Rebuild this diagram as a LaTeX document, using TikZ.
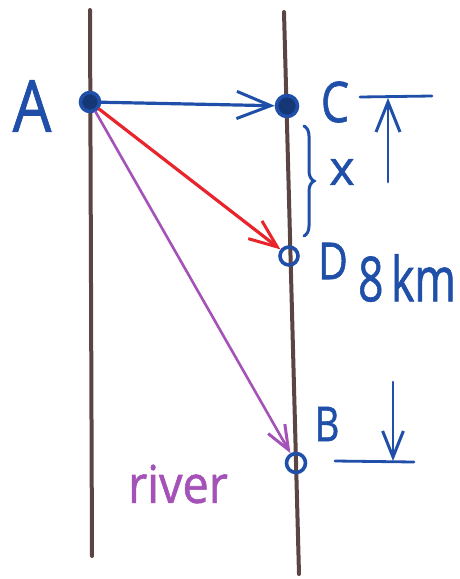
\documentclass[tikz,border=0pt]{standalone}
\usepackage{fontspec}
\setmainfont{Open Sans}[FakeBold=1.2]
\usetikzlibrary{arrows.meta,decorations.pathreplacing}
\definecolor{penblue}{HTML}{1F4FA8}
\definecolor{penred}{HTML}{E8242C}
\definecolor{penpurple}{HTML}{A452B8}
\definecolor{penbrown}{HTML}{5A4444}
\tikzset{
  bank/.style={draw=penbrown,line width=4pt,line cap=round},
  dot/.style={circle,draw=penblue,line width=3.6pt,inner sep=0pt,minimum size=#1},
  lab/.style={text=penblue,inner sep=0pt,anchor=center},
  pen/.style={line width=3.2pt,line cap=round},
  tip/.style={-{Straight Barb[length=#1,width=0.8*#1,line width=3pt]}},
  tip/.default=24pt
}
\begin{document}
\begin{tikzpicture}[x=1pt,y=-1pt]
\useasboundingbox (0,0) rectangle (459,579);
% river banks
\coordinate (LT) at (90,10);
\coordinate (LB) at (92,556);
\coordinate (RT) at (284,12);
\coordinate (RB) at (299,574);
\draw[bank] (LT) -- (LB);
\draw[bank] (RT) -- (RB);
% points
\node[dot=19pt,fill=penblue!70!black] (A) at (90,102) {};
\node[dot=21pt,fill=penblue!70!black] (C) at (287,106) {};
\node[dot=18pt] (D) at (289,256) {};
\node[dot=19pt] (B) at (296,463) {};
% labels
\node[lab,font=\fontsize{72}{72}\selectfont,xscale=0.85] (Al) at (32,106) {A};
\node[lab,font=\fontsize{56}{56}\selectfont,xscale=0.8] (Cl) at (335,102) {C};
\node[lab,font=\fontsize{51}{51}\selectfont,xscale=0.8] (Dl) at (333,261) {D};
\node[lab,font=\fontsize{48}{48}\selectfont,xscale=0.8] (Bl) at (327,424) {B};
\node[lab,font=\fontsize{48}{48}\selectfont] (xl) at (342,172) {x};
\node[lab,font=\fontsize{62}{62}\selectfont,xscale=0.72] (km) at (407,278) {8\,km};
\node[inner sep=0pt,text=penpurple,font=\fontsize{52}{52}\selectfont,xscale=0.9] (river) at (178,484) {river};
% arrows
\draw[pen,penblue,tip=34pt] (A) -- (C);
\draw[pen,penred,tip=28pt] (A) -- (D);
\draw[pen,penpurple,line width=2.6pt,tip=24pt] (A) -- (B);
% brace
\coordinate (brT) at (304,126);
\coordinate (brB) at (304,236);
\draw[pen,penblue,line width=3pt,decorate,decoration={brace,amplitude=10pt}] (brT) -- (brB);
% 8 km dimension
\coordinate (upS) at (388,182);
\coordinate (upE) at (388,98);
\coordinate (tL) at (360,97);
\coordinate (tR) at (432,96);
\draw[pen,penblue,line width=2.8pt,tip=30pt] (upS) -- (upE);
\draw[pen,penblue,line width=2.8pt] (tL) -- (tR);
\coordinate (dnS) at (393,382);
\coordinate (dnE) at (393,461);
\coordinate (bL) at (335,461);
\coordinate (bR) at (414,462);
\draw[pen,penblue,line width=2.8pt,tip=26pt] (dnS) -- (dnE);
\draw[pen,penblue,line width=2.8pt] (bL) -- (bR);
\end{tikzpicture}
\end{document}
